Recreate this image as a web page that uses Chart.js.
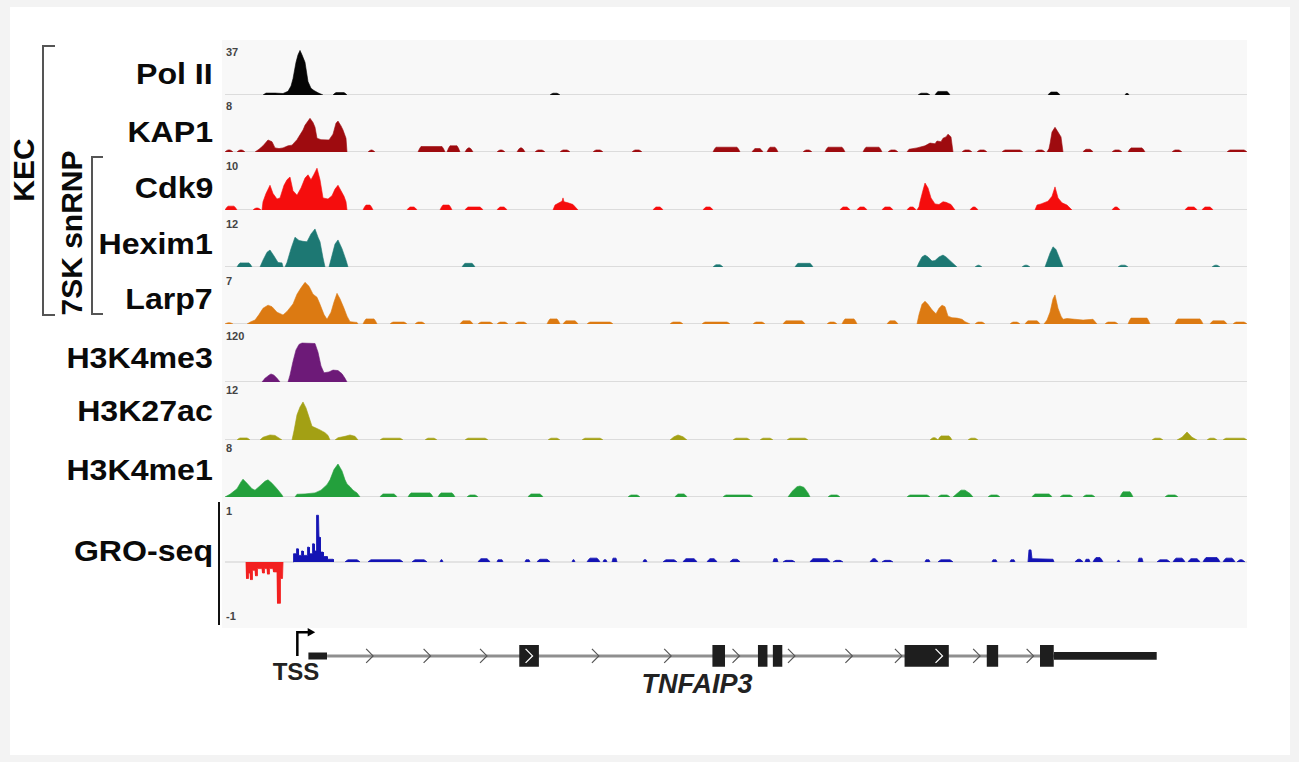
<!DOCTYPE html>
<html><head><meta charset="utf-8">
<script src="https://cdn.jsdelivr.net/npm/chart.js@4.4.1/dist/chart.umd.min.js"></script>
<style>
body{margin:0;background:#f3f3f3;width:1299px;height:762px;overflow:hidden;font-family:"Liberation Sans",Arial,Helvetica,sans-serif;position:relative;}
#panel{position:absolute;left:10px;top:7px;width:1280px;height:748px;background:#fff;}
#tracks{position:absolute;left:222px;top:40px;width:1025px;height:588px;background:#f8f8f8;}
canvas{position:absolute;}
.name{position:absolute;right:1086px;font-weight:bold;font-size:30px;color:#0a0a0a;white-space:nowrap;transform-origin:right center;transform:translateY(-50%) scaleX(1.07);line-height:1;}
.tick{position:absolute;left:226px;font-size:11px;font-weight:bold;color:#444;line-height:1;}
.rot{position:absolute;font-weight:bold;font-size:30px;color:#0a0a0a;white-space:nowrap;transform:translate(-50%,-50%) rotate(-90deg);line-height:1;}
.brk{position:absolute;border-left:2px solid #555;border-top:2px solid #555;border-bottom:2px solid #555;}
#groAxis{position:absolute;left:218px;top:502px;width:2px;height:123px;background:#111;}
.gtext{position:absolute;font-weight:bold;color:#222;white-space:nowrap;transform:translate(-50%,-50%);line-height:1;}
</style></head><body>
<div id="panel"></div>
<div id="tracks"></div>
<div id="groAxis"></div>
<div class="brk" style="left:42px;top:45px;width:11px;height:267px;"></div>
<div class="brk" style="left:91px;top:156px;width:10px;height:155px;"></div>
<div class="rot" style="left:24px;top:170px;">KEC</div>
<div class="rot" style="left:72px;top:233px;">7SK snRNP</div>
<div id="labels"></div>
<div class="gtext" style="left:296px;top:672px;font-size:24px;">TSS</div>
<div class="gtext" style="left:697px;top:684px;font-size:27px;font-style:italic;">TNFAIP3</div>
<script>
// ---------------- DATA ----------------
const trackNames = ["Pol II","KAP1","Cdk9","Hexim1","Larp7","H3K4me3","H3K27ac","H3K4me1"];
const trackMax   = [37, 8, 10, 12, 7, 120, 12, 8];
const groName = "GRO-seq";
const groRange = [-1, 1];

// peaks: arrays of [position, signal]; blips: [start, end, signal]
const polIIPeaks = [
  [[38,0],[41,1.3],[50,1.3],[58,1],[63,2.5],[66,6],[68,11],[71,22],[73,27],[75,30],[77,27],[80,22],[83,9],[86,4.5],[89,3],[93,1.5],[98,0]]
];
const polIIBlips = [[108,122,1.6],[325,335,1.2],[693,705,1.2],[710,725,2.4],[823,835,2],[900,904,1]];

const kap1Peaks = [
  [[30,0],[34,0.4],[38,0.9],[43,1.75],[47,1.5],[50,0.6],[54,0.5],[58,0.6],[63,0.9],[67,1.0],[72,1.8],[75,2.5],[78,3.2],[80,3.9],[83,4.5],[85,4.9],[88,4.3],[90,3.6],[92,2.0],[96,1.8],[104,1.75],[108,2.6],[111,4.2],[113,4.5],[116,3.8],[118,3.2],[121,2.0],[122,0]],
  [[682,0],[684,0.4],[692,0.6],[700,0.9],[705,1.3],[710,1.2],[712,1.6],[716,1.5],[718,2.0],[721,2.2],[723,2.6],[726,2.2],[728,0]],
  [[822,0],[824,0.5],[825,1.2],[827,2.9],[830,3.6],[833,2.9],[836,2.2],[838,0]]
];
const kap1Blips = [[0,8,0.3],[12,20,0.3],[143,150,0.3],[193,220,0.8],[222,235,0.9],[240,248,0.6],[272,280,0.3],[292,300,0.6],[310,320,0.3],[335,345,0.3],[368,378,0.3],[407,417,0.3],[488,515,0.7],[527,538,0.5],[542,553,0.7],[578,587,0.3],[600,620,0.7],[638,657,0.7],[663,673,0.3],[737,747,0.3],[752,762,0.3],[777,798,0.3],[810,820,0.3],[858,868,0.4],[887,897,0.3],[903,920,0.6],[947,957,0.3],[1002,1022,0.3]];

const cdk9Peaks = [
  [[37,0],[38,1.5],[41,3.0],[45,4.5],[48,3.0],[52,2.0],[55,2.2],[59,4.5],[62,5.5],[65,6.0],[68,3.5],[72,2.7],[76,4.0],[80,5.8],[83,6.4],[86,5.5],[89,6.5],[92,7.6],[95,5.5],[98,2.2],[103,2.0],[107,2.6],[110,3.8],[113,4.5],[116,3.5],[119,2.5],[121,1.5],[122,0]],
  [[328,0],[330,0.9],[334,1.3],[337,1.6],[338,2.2],[339,1.5],[343,1.3],[348,1.0],[353,0]],
  [[692,0],[694,0.6],[695,1.5],[698,3.6],[700,4.9],[703,4.0],[706,2.2],[710,1.1],[714,1.0],[718,1.5],[721,1.4],[726,1.0],[730,0]],
  [[810,0],[812,0.9],[816,1.1],[823,1.6],[827,2.5],[830,4.2],[833,2.2],[837,1.3],[842,0.9],[847,0]]
];
const cdk9Blips = [[0,12,0.7],[28,36,0.36],[138,148,0.9],[182,192,0.55],[215,227,0.9],[240,258,0.55],[272,282,0.55],[428,438,0.55],[478,488,0.55],[615,625,0.55],[632,642,0.55],[657,668,0.55],[682,691,0.55],[745,753,0.55],[887,895,0.55],[960,972,0.55],[977,988,0.55]];

const hexim1Peaks = [
  [[35,0],[38,1.5],[42,3.2],[45,3.7],[49,2.4],[53,1.0],[57,0.9],[58,0]],
  [[60,0],[62,1.0],[66,4.0],[70,6.5],[74,5.8],[78,5.6],[82,5.5],[86,7.2],[90,8.3],[93,6.5],[95,5.5],[98,2.0],[100,0]],
  [[104,0],[107,2.5],[110,5.0],[113,5.9],[117,4.0],[121,1.5],[123,0]],
  [[692,0],[694,1.0],[697,2.2],[700,2.6],[703,2.2],[707,1.3],[710,1.4],[714,2.2],[718,2.6],[721,2.2],[727,1.0],[732,0]],
  [[820,0],[822,1.2],[825,3.0],[828,4.4],[831,3.8],[834,2.2],[838,0]]
];
const hexim1Blips = [[12,27,0.9],[237,250,0.8],[488,498,0.5],[570,588,0.8],[750,757,0.4],[797,805,0.4],[893,903,0.4],[987,995,0.4]];

const larp7Peaks = [
  [[22,0],[26,0.3],[30,0.5],[34,1.2],[38,2.0],[43,2.4],[47,2.2],[52,1.5],[58,1.15],[62,1.6],[68,2.55],[72,3.8],[76,4.6],[80,5.3],[84,4.8],[88,3.8],[92,3.4],[95,2.5],[99,1.2],[102,0.6],[106,1.5],[109,2.8],[112,3.9],[115,3.2],[119,2.0],[122,1.0],[125,0.3],[132,0.2],[133,0]],
  [[692,0],[694,1.2],[697,2.5],[700,2.9],[703,2.5],[707,1.8],[711,1.3],[714,2.0],[717,2.4],[720,2.2],[723,1.0],[727,0.8],[732,0.75],[737,0.6],[740,0.3],[745,0]],
  [[819,0],[822,0.5],[825,1.5],[828,3.2],[830,3.7],[833,2.0],[836,1.0],[838,0.6],[842,0.7],[850,0.6],[858,0.5],[868,0.6],[872,0]]
];
const larp7Blips = [[0,8,0.15],[138,152,0.65],[165,182,0.25],[190,200,0.25],[235,248,0.4],[253,268,0.25],[272,283,0.25],[290,302,0.25],[322,335,0.65],[338,353,0.4],[362,388,0.25],[445,458,0.25],[477,505,0.25],[528,540,0.25],[558,580,0.4],[602,612,0.25],[617,632,0.65],[662,673,0.4],[750,760,0.25],[785,795,0.25],[800,815,0.4],[880,893,0.25],[903,925,0.75],[950,978,0.65],[985,1002,0.4],[1008,1022,0.25]];

const h3k4me3Peaks = [
  [[37,0],[40,8],[44,15],[46,17.5],[49,15],[52,8],[55,0]],
  [[63,0],[65,15],[68,45],[71,70],[74,82],[77,85],[90,84],[93,65],[96,35],[99,20],[104,22],[108,26],[113,25],[117,18],[120,8],[122,0]]
];
const h3k4me3Blips = [];

const h3k27acPeaks = [
  [[35,0],[38,0.6],[45,1.1],[50,1.0],[57,0]],
  [[67,0],[69,2.0],[72,5.5],[75,7.2],[78,8.3],[81,7.0],[84,5.0],[87,3.0],[91,2.6],[95,2.2],[100,1.6],[103,1.0],[105,0]],
  [[110,0],[113,0.5],[120,0.8],[125,1.1],[130,0.8],[133,0]],
  [[445,0],[449,0.7],[453,1.1],[458,0.7],[462,0]],
  [[952,0],[957,0.6],[962,1.75],[967,0.6],[972,0]]
];
const h3k27acBlips = [[12,25,0.45],[155,178,0.4],[200,212,0.4],[240,263,0.4],[323,335,0.4],[357,378,0.4],[508,525,0.4],[535,548,0.4],[562,583,0.4],[705,713,0.5],[713,727,0.9],[743,753,0.4],[927,938,0.4],[982,992,0.4],[998,1022,0.4]];

const h3k4me1Peaks = [
  [[0,0],[5,0.4],[12,1.2],[16,2.2],[18,2.6],[22,2.0],[27,1.2],[30,1.0],[34,1.5],[40,2.3],[43,2.5],[47,2.0],[52,1.2],[57,0.3],[58,0]],
  [[70,0],[72,0.4],[80,0.45],[90,0.6],[96,1.0],[102,1.8],[105,2.5],[109,4.0],[113,4.8],[117,3.8],[120,2.5],[122,1.9],[125,1.5],[128,1.0],[132,0.6],[135,0]],
  [[563,0],[567,0.8],[572,1.5],[575,1.6],[579,1.4],[583,0.6],[585,0]],
  [[728,0],[732,0.5],[736,1.0],[740,1.0],[745,0.5],[748,0]]
];
const h3k4me1Blips = [[155,172,0.45],[183,208,0.6],[213,230,0.6],[242,253,0.3],[303,318,0.45],[403,415,0.3],[450,462,0.45],[498,528,0.3],[603,615,0.3],[682,705,0.3],[713,725,0.3],[763,775,0.3],[807,827,0.45],[835,848,0.3],[858,870,0.3],[895,908,0.75],[940,953,0.3]];

const groMinusPeaks = [
  [[21,0],[21.5,-0.3],[23,-0.3],[23.5,-0.2],[25,-0.2],[25.5,-0.32],[27,-0.32],[27.5,-0.15],[30,-0.15],[30.5,-0.25],[32,-0.25],[32.5,-0.12],[37,-0.12],[37.5,-0.2],[39,-0.2],[39.5,-0.12],[42,-0.12],[42.5,-0.22],[44,-0.22],[44.5,-0.12],[48,-0.12],[48.5,-0.18],[52,-0.18],[52.5,-0.75],[55,-0.75],[55.5,-0.3],[57.5,-0.3],[58,0]]
];
const groPlusPeaks = [
  [[68,0],[68.5,0.15],[71,0.15],[71.5,0.24],[73,0.24],[73.5,0.12],[76,0.12],[76.5,0.2],[78,0.2],[78.5,0.12],[82,0.12],[82.5,0.27],[84,0.27],[84.5,0.15],[87,0.15],[87.5,0.33],[89,0.33],[89.5,0.2],[91,0.2],[91.5,0.85],[93.5,0.85],[94,0.45],[95,0.45],[95.5,0.18],[98,0.18],[98.5,0.1],[102,0.1],[102.5,0.05],[108,0.05],[108.5,0]],
  [[803,0],[804,0.22],[806,0.22],[807,0.06],[828,0.05],[829,0]]
];
const groPlusBlips = [[120,135,0.04],[143,178,0.04],[187,202,0.04],[215,218,0.04],[253,265,0.06],[272,278,0.04],[300,305,0.04],[312,325,0.05],[347,350,0.04],[362,375,0.07],[378,382,0.04],[387,392,0.07],[418,422,0.04],[438,452,0.04],[458,472,0.06],[482,492,0.06],[505,515,0.05],[548,553,0.06],[558,570,0.03],[585,605,0.06],[608,618,0.03],[645,653,0.06],[657,668,0.03],[700,705,0.04],[713,728,0.04],[767,772,0.04],[785,790,0.04],[850,858,0.05],[860,865,0.05],[868,878,0.08],[892,895,0.03],[913,918,0.07],[932,945,0.04],[948,960,0.07],[963,975,0.06],[978,995,0.08],[998,1010,0.07],[1012,1020,0.04]];

// gene model (TNFAIP3)
const utr5 = [79, 98];
const intron = [98, 832];
const exons = [[292,312],[487,500],[533,543],[548,558],[681,726],[764,776],[818,832]];
const utr3 = [832, 936];
const chevrons = [141,199,256,369,442,511,567,625,675,754,808];
const exonChevrons = [302, 716];
const tssPos = 68;

// ---------------- LAYOUT / STYLE ----------------
const trackColors = ['#050505','#9e0b0f','#f50d0d','#1d7873','#dc7a12','#6d1a78','#a3a014','#23a03c'];
const baselines = [95,152,210,267,324,382,440,497];
const nameY = [74,132,188,244,299,358,411,470];
const tickTop = [47,101,161,219,276,331,385,443];
const X0 = 225, XW = 1022, TH = 55;

const trackPeaks = [polIIPeaks,kap1Peaks,cdk9Peaks,hexim1Peaks,larp7Peaks,h3k4me3Peaks,h3k27acPeaks,h3k4me1Peaks];
const trackBlips = [polIIBlips,kap1Blips,cdk9Blips,hexim1Blips,larp7Blips,h3k4me3Blips,h3k27acBlips,h3k4me1Blips];

function blipShape(s, e, v){
  if (e - s > 6) return [{x:s,y:0},{x:s+1.5,y:v*0.6},{x:s+3,y:v},{x:e-3,y:v},{x:e-1.5,y:v*0.6},{x:e,y:0}];
  return [{x:s,y:0},{x:s+1,y:v},{x:e-1,y:v},{x:e,y:0}];
}
function buildPoints(peaks, blips){
  const segs = peaks.map(p => p.map(([x,y]) => ({x, y})));
  blips.forEach(([s,e,v]) => segs.push(blipShape(s,e,v)));
  segs.sort((a,b) => a[0].x - b[0].x);
  const out = [];
  segs.forEach((seg,i) => { if (i) out.push({x: seg[0].x - 0.01, y: null}); out.push(...seg); });
  return out;
}

function makeCanvas(left, top, w, h){
  const c = document.createElement('canvas');
  c.width = w; c.height = h;
  c.style.left = left + 'px'; c.style.top = top + 'px';
  c.style.width = w + 'px'; c.style.height = h + 'px';
  document.body.appendChild(c);
  return c;
}

const baseOpts = (ymin, ymax, padBottom, padTop) => ({
  responsive: false, animation: false, events: [], devicePixelRatio: 1,
  layout: {padding: {left:0, right:0, top:padTop||0, bottom:padBottom||0}},
  plugins: {legend: {display:false}, tooltip: {enabled:false}},
  scales: {
    x: {type:'linear', display:false, min:0, max:XW},
    y: {type:'linear', display:false, min:ymin, max:ymax}
  },
  elements: {point: {radius:0}, line: {tension:0}}
});

const labelsDiv = document.getElementById('labels');
function addText(cls, txt, styleStr){
  const d = document.createElement('div');
  d.className = cls; d.textContent = txt; d.setAttribute('style', styleStr);
  labelsDiv.appendChild(d);
}

trackNames.forEach((name, i) => {
  addText('name', name, 'top:' + nameY[i] + 'px;');
  addText('tick', String(trackMax[i]), 'top:' + tickTop[i] + 'px;');
  const cv = makeCanvas(X0, baselines[i] - TH, XW, TH + 2);
  new Chart(cv, {
    type: 'line',
    data: {datasets: [
      {data: buildPoints(trackPeaks[i], trackBlips[i]), borderColor: trackColors[i], backgroundColor: trackColors[i], borderWidth: 0.6, fill: 'origin', spanGaps: false},
      {data: [{x:0,y:0},{x:XW,y:0}], borderColor: '#dcdcdc', borderWidth: 2, fill: false}
    ]},
    options: baseOpts(0, trackMax[i], 2)
  });
});

// GRO-seq
addText('name', groName, 'top:551px;');
addText('tick', String(groRange[1]), 'top:506px;');
addText('tick', String(groRange[0]), 'top:611px;');
{
  const cv = makeCanvas(X0, 507, XW, 110);
  new Chart(cv, {
    type: 'line',
    data: {datasets: [
      {data: buildPoints(groPlusPeaks, groPlusBlips), borderColor: '#1414b4', backgroundColor: '#1414b4', borderWidth: 0.8, fill: 'origin'},
      {data: buildPoints(groMinusPeaks, []), borderColor: '#f22020', backgroundColor: '#f22020', borderWidth: 0.8, fill: 'origin'},
      {data: [{x:0,y:0},{x:XW,y:0}], borderColor: '#dddddd', borderWidth: 1.5, fill: false}
    ]},
    options: baseOpts(groRange[0], groRange[1])
  });
}

// Gene model
{
  const cv = makeCanvas(X0, 622, XW, 80);
  const chev = (list) => { const out = []; list.forEach((c,i) => { if (i) out.push({x:c-5, y:null}); out.push({x:c-3.5,y:8},{x:c+3.5,y:0},{x:c-3.5,y:-8}); }); return out; };
  const rect = ([s,e], h, col) => ({data: [{x:s,y:h},{x:e,y:h}], borderWidth: 0, borderColor: col, backgroundColor: col, fill: {value: -h}});
  const ds = [];
  ds.push({data: chev(exonChevrons), borderColor: '#ffffff', borderWidth: 1.3, fill: false});
  ds.push({data: [{x:tssPos,y:0},{x:tssPos,y:27},{x:tssPos+13,y:27}], borderColor:'#000', borderWidth: 2.5, fill:false,
           pointRadius:[0,0,5], pointStyle:'triangle', pointRotation:90, pointBackgroundColor:'#000', pointBorderWidth:0});
  exons.forEach(ex => ds.push(rect(ex, 12.5, '#1e1e1e')));
  ds.push(rect(utr5, 4, '#1e1e1e'));
  ds.push(rect(utr3, 4.5, '#1e1e1e'));
  ds.push({data: chev(chevrons), borderColor: '#555', borderWidth: 1.2, fill: false});
  ds.push({data: [{x:intron[0],y:0},{x:intron[1],y:0}], borderColor: '#8f8f8f', borderWidth: 3, fill: false});
  new Chart(cv, {type: 'line', data: {datasets: ds}, options: baseOpts(-47, 33)});
}
</script>
</body></html>
